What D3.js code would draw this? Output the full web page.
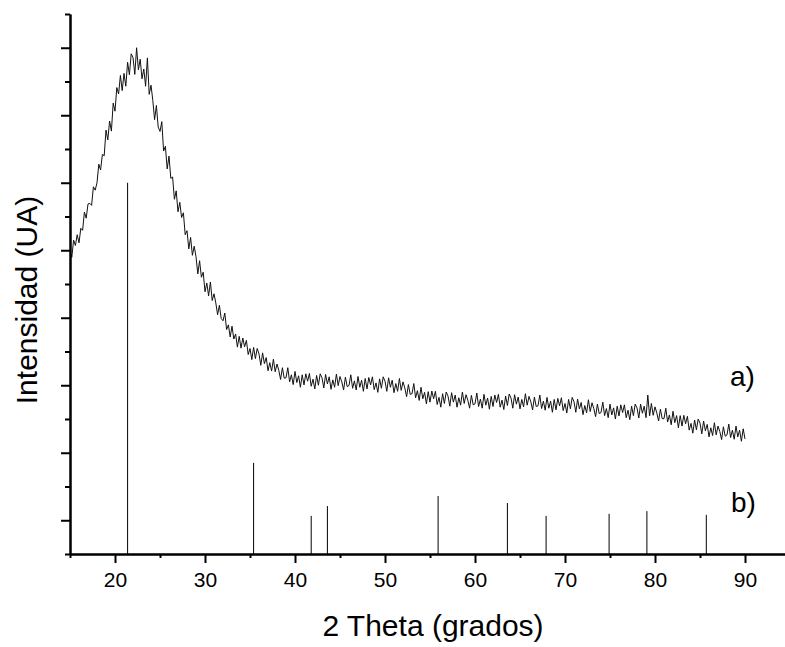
<!DOCTYPE html>
<html>
<head>
<meta charset="utf-8">
<script src="https://cdn.jsdelivr.net/npm/d3@7"></script>
<style>
    body { margin: 0; background: #fff; }
    text { font-family: Arial, "Liberation Sans", sans-serif; fill: #000; }
</style>
</head>
<body>
<div id="xrdVis"></div>
<script>
// diffractogram a) : 2 theta sampled from 15 deg every 0.2 deg (one row = 1 deg)
const thetaStart = 15;
const thetaStep = 0.2;
const intensityA = [
    898, 879, 930, 914, 946,      922, 965, 959, 1013, 995,     1037, 1039, 1033, 1088, 1078,
    1100, 1155, 1138, 1184, 1180, 1256, 1227, 1283, 1253, 1336, 1312, 1382, 1363, 1418, 1373,
    1424, 1386, 1457, 1420, 1482, 1471, 1421, 1500, 1435, 1466, 1408, 1437, 1386, 1470, 1362,
    1389, 1344, 1287, 1329, 1265, 1252, 1281, 1194, 1208, 1141, 1179, 1113, 1117, 1051, 1076,
    1014, 1042, 997, 1011, 946,   958, 904, 938, 885, 912,       881, 830, 869, 820, 835,
    777, 803, 765, 806, 751,      771, 744, 709, 737, 698,      691, 714, 665, 679, 643,
    675, 637, 652, 613, 645,      610, 640, 614, 633, 591,      609, 576, 612, 579, 609,
    593, 559, 596, 564, 582,      543, 567, 542, 577, 540,      563, 544, 517, 552, 521,
    522, 552, 510, 531, 502,      541, 508, 528, 494, 531,      501, 534, 512, 535, 497,
    518, 489, 529, 500, 534,      522, 492, 532, 504, 525,      488, 516, 494, 533, 499,
    526, 510, 486, 524, 496,      499, 531, 491, 513, 486,      526, 494, 515, 482, 520,
    489, 523, 501, 525, 487,      507, 479, 519, 491, 525,      512, 482, 522, 494, 515,
    478, 505, 482, 520, 485,      510, 492, 466, 502, 473,      475, 505, 463, 484, 455,
    494, 460, 479, 445, 481,      450, 483, 460, 482, 443,      464, 435, 475, 446, 480,
    468, 438, 478, 450, 471,      435, 463, 441, 480, 446,      472, 456, 432, 470, 442,
    445, 477, 437, 459, 432,      473, 441, 462, 429, 467,      437, 471, 449, 473, 435,
    456, 428, 468, 440, 474,      462, 432, 472, 444, 465,      430, 458, 436, 475, 441,
    467, 451, 427, 465, 437,      439, 471, 431, 453, 426,      464, 432, 453, 420, 458,
    427, 461, 439, 463, 425,      446, 418, 458, 430, 464,      451, 420, 459, 430, 449,
    413, 440, 418, 457, 422,      448, 431, 407, 444, 416,      419, 450, 410, 431, 404,
    444, 412, 433, 400, 438,      409, 442, 419, 442, 404,      426, 398, 438, 410, 444,
    433, 403, 444, 417, 438,      404, 471, 409, 446, 411,      436, 418, 394, 429, 401,
    401, 432, 391, 412, 383,      423, 389, 410, 374, 410,      379, 411, 386, 408, 367,
    387, 358, 397, 368, 400,      388, 356, 394, 365, 384,      347, 374, 351, 389, 353,
    379, 363, 339, 377, 349,      353, 385, 345, 367, 340,      379, 347, 367, 334, 371,
    341
];

// reference pattern b) : stick positions and heights
const stickTheta = [21.4, 35.4, 41.8, 43.6, 55.9, 63.6, 67.9, 74.9, 79.1, 85.7];
const stickIntensity = [1100, 270, 113, 142, 172, 151, 113, 119, 127, 116];

// axis ticks
const xMajorTicks = [20, 30, 40, 50, 60, 70, 80, 90];
const xMinorTicks = [15, 25, 35, 45, 55, 65, 75, 85, 95];
const yMajorTicks = [100, 300, 500, 700, 900, 1100, 1300, 1500];
const yMinorTicks = [0, 200, 400, 600, 800, 1000, 1200, 1400, 1600];

class XrdVis {
    constructor(parentElement) {
        this.parentElement = parentElement;
        this.data = intensityA.map((v, i) => ({theta: thetaStart + i * thetaStep, value: v}));
        this.sticks = stickTheta.map((t, i) => ({theta: t, value: stickIntensity[i]}));
        this.initVis();
    }

    initVis() {
        let vis = this;

        vis.width = 785;
        vis.height = 647;

        vis.svg = d3.select("#" + vis.parentElement)
            .append("svg")
            .attr("width", vis.width)
            .attr("height", vis.height);

        vis.x = d3.scaleLinear()
            .domain([15, 95])
            .range([70, 790]);

        vis.y = d3.scaleLinear()
            .domain([0, 1600])
            .range([554, 14]);

        // sticks b)
        vis.svg.append("g")
            .selectAll("line")
            .data(vis.sticks)
            .enter()
            .append("line")
            .attr("x1", d => vis.x(d.theta))
            .attr("x2", d => vis.x(d.theta))
            .attr("y1", vis.y(0))
            .attr("y2", d => vis.y(d.value))
            .attr("stroke", "#000")
            .attr("stroke-width", 1);

        // curve a)
        let line = d3.line()
            .x(d => vis.x(d.theta))
            .y(d => vis.y(d.value));

        vis.svg.append("path")
            .datum(vis.data)
            .attr("d", line)
            .attr("fill", "none")
            .attr("stroke", "#111")
            .attr("stroke-width", 1);

        // X axis (minor, then major with labels)
        vis.svg.append("g")
            .attr("class", "axis x-minor")
            .attr("transform", "translate(0," + vis.y(0) + ")")
            .call(d3.axisBottom(vis.x).tickValues(xMinorTicks).tickSize(4).tickSizeOuter(0).tickFormat(""));

        vis.xAxis = vis.svg.append("g")
            .attr("class", "axis x-axis")
            .attr("transform", "translate(0," + vis.y(0) + ")")
            .call(d3.axisBottom(vis.x).tickValues(xMajorTicks).tickSize(9).tickSizeOuter(0).tickPadding(9));

        vis.xAxis.selectAll("text")
            .style("font-size", "21px")
            .style("font-family", "Arial, 'Liberation Sans', sans-serif");

        // Y axis, no labels
        vis.svg.append("g")
            .attr("class", "axis y-minor")
            .attr("transform", "translate(" + vis.x(15) + ",0)")
            .call(d3.axisLeft(vis.y).tickValues(yMinorTicks).tickSize(5).tickSizeOuter(0).tickFormat(""));

        vis.svg.append("g")
            .attr("class", "axis y-axis")
            .attr("transform", "translate(" + vis.x(15) + ",0)")
            .call(d3.axisLeft(vis.y).tickValues(yMajorTicks).tickSize(9).tickSizeOuter(0).tickFormat(""));

        vis.svg.selectAll(".axis path, .axis line")
            .attr("stroke", "#000")
            .attr("stroke-width", 2);

        // titles
        vis.svg.append("text")
            .attr("text-anchor", "middle")
            .attr("x", 433)
            .attr("y", 636)
            .style("font-size", "30px")
            .text("2 Theta (grados)");

        vis.svg.append("text")
            .attr("text-anchor", "middle")
            .attr("transform", "translate(37,300) rotate(-90)")
            .style("font-size", "30px")
            .text("Intensidad (UA)");

        // series labels
        vis.svg.append("text")
            .attr("x", 730)
            .attr("y", 386)
            .style("font-size", "28px")
            .text("a)");

        vis.svg.append("text")
            .attr("x", 731)
            .attr("y", 512)
            .style("font-size", "28px")
            .text("b)");
    }
}

new XrdVis("xrdVis");
</script>
</body>
</html>
